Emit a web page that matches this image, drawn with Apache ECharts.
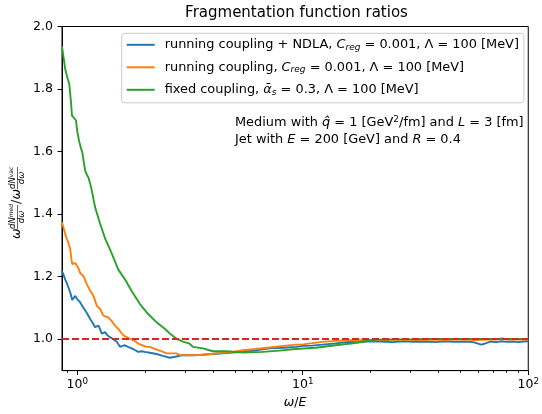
<!DOCTYPE html>
<html><head><meta charset="utf-8">
<script src="https://cdn.jsdelivr.net/npm/echarts@6/dist/echarts.min.js"></script>
<style>html,body{margin:0;padding:0;background:#fff}#c{width:542px;height:414px}</style>
</head><body><div id="c"></div>
<script>
const FONT = 'DejaVu Sans';
const xMajorTicks = [1, 10, 100];
const xMinorTicks = [0.9, 2, 3, 4, 5, 6, 7, 8, 9, 20, 30, 40, 50, 60, 70, 80, 90];
const yTicks = [1.0, 1.2, 1.4, 1.6, 1.8, 2.0];

const ndlaX = [0.856,0.870,0.885,0.900,0.915,0.935,0.950,0.957,0.968,0.980,1.000,1.031,1.055,1.085,1.110,1.141,1.170,1.200,1.220,1.242,1.265,1.285,1.305,1.329,1.360,1.398,1.440,1.497,1.520,1.548,1.590,1.628,1.680,1.743,1.800,1.864,1.930,1.995,2.100,2.246,2.400,2.572,2.750,2.944,3.200,3.488,4.000,4.892,5.415,6.200,7.102,8.200,9.314,10.03,11.0,12.21,14.0,16.01,18.0,19.81,22,25,28,31,35,39,43,47,52,57,61.8,64,68,72,76,80,85,90,95,100];
const ndlaY = [1.217,1.205,1.190,1.178,1.164,1.145,1.125,1.122,1.130,1.138,1.128,1.117,1.105,1.091,1.080,1.064,1.052,1.038,1.044,1.043,1.030,1.017,1.022,1.022,1.012,1.006,1.000,0.991,0.985,0.975,0.978,0.980,0.975,0.970,0.965,0.959,0.961,0.959,0.956,0.952,0.946,0.940,0.944,0.949,0.948,0.949,0.952,0.957,0.959,0.964,0.970,0.972,0.975,0.978,0.979,0.982,0.986,0.991,0.990,0.993,0.992,0.990,0.993,0.991,0.992,0.990,0.993,0.991,0.992,0.990,0.982,0.985,0.992,0.990,0.993,0.991,0.992,0.990,0.992,0.993];

const runX = [0.856,0.870,0.885,0.900,0.915,0.930,0.945,0.950,0.965,0.980,0.990,1.010,1.031,1.066,1.104,1.140,1.180,1.222,1.263,1.306,1.340,1.374,1.420,1.471,1.530,1.601,1.713,1.790,1.864,1.950,2.030,2.099,2.250,2.403,2.487,2.620,2.753,2.847,3.100,3.488,3.993,4.892,5.415,6.200,7.102,8.200,9.314,10.03,12.21,14,16.01,19.81,23,27,32,37,43,50,58,66,72,76.5,80,87,93,100];
const runY = [1.374,1.355,1.335,1.320,1.306,1.290,1.250,1.240,1.240,1.243,1.245,1.228,1.211,1.201,1.175,1.155,1.138,1.106,1.096,1.075,1.072,1.069,1.058,1.043,1.030,1.012,1.001,0.995,0.985,0.980,0.975,0.975,0.966,0.959,0.954,0.954,0.954,0.949,0.948,0.949,0.953,0.959,0.964,0.968,0.973,0.978,0.982,0.983,0.991,0.994,0.996,0.996,0.997,0.998,0.997,0.998,0.997,0.999,0.997,0.998,0.998,1.003,0.998,0.999,0.998,0.999];

const fixX = [0.856,0.870,0.885,0.905,0.922,0.935,0.948,0.957,0.987,1.000,1.020,1.040,1.055,1.070,1.085,1.105,1.122,1.153,1.200,1.263,1.329,1.422,1.521,1.628,1.743,1.897,2.063,2.246,2.445,2.600,2.753,2.944,3.151,3.258,3.607,3.993,4.575,5.415,6.634,7.863,9.314,11.41,13.98,16.01,17.72,19.81,21.71,26,30,35,40,50,60,70,80,90,100];
const fixY = [1.937,1.900,1.863,1.835,1.816,1.770,1.715,1.711,1.700,1.665,1.632,1.610,1.595,1.565,1.538,1.525,1.516,1.485,1.422,1.369,1.322,1.274,1.222,1.191,1.154,1.112,1.080,1.054,1.033,1.015,1.001,0.992,0.985,0.975,0.970,0.961,0.961,0.957,0.959,0.963,0.968,0.972,0.980,0.985,0.989,0.996,0.998,0.999,0.999,1.0,1.0,1.0,1.0,1.0,1.0,1.0,1.0];

const refX = [0.856, 100];
const refY = [1.0, 1.0];

const legendNames = ['ndla', 'run', 'fix'];
const legendLabels = {
  ndla: 'running coupling + NDLA, {i|C}{sub|reg} = 0.001, Λ = 100 [MeV]',
  run: 'running coupling, {i|C}{sub|reg} = 0.001, Λ = 100 [MeV]',
  fix: 'fixed coupling, {i|ᾱ}{sub|s} = 0.3, Λ = 100 [MeV]'
};
const titleText = 'Fragmentation function ratios';
const annot1 = 'Medium with {i|q̂} = 1 [GeV{sup|2}/fm] and {i|L} = 3 [fm]';
const annot2 = 'Jet with {i|E} = 200 [GeV] and {i|R} = 0.4';

const zip = (xs, ys) => xs.map((x, i) => [x, ys[i]]);
const colors = {ndla: '#1f77b4', run: '#ff7f0e', fix: '#2ca02c', ref: '#d62728'};

const chart = echarts.init(document.getElementById('c'), null, {renderer: 'canvas'});
const GL = 62, GR = 531, GT = 26.5, GB = 375.7;
const TXT = 12.9;

function lineSeries(name, xs, ys, color, z) {
  return {name, type: 'line', data: zip(xs, ys), symbol: 'none', showSymbol: false,
    lineStyle: {color, width: 1.9}, itemStyle: {color}, z, silent: true};
}

const fracRich = {i: {fontSize: 8.5, fontStyle: 'italic', fontFamily: FONT}, s: {fontSize: 6, fontStyle: 'italic', fontFamily: FONT, verticalAlign: 'top', padding: [0, 0, 4, 0]}};
const yLabelGroup = {
  type: 'group', x: 17, y: 201, rotation: Math.PI / 2,
  children: [
    {type: 'text', x: -38, y: 0, style: {text: 'ω', font: 'italic 12.5px ' + FONT, fill: '#000', verticalAlign: 'middle', align: 'left'}},
    {type: 'text', x: -28, y: -4, style: {text: '{i|dN}{s|med}', font: 'italic 8.5px ' + FONT, fill: '#000', verticalAlign: 'middle', align: 'left', rich: fracRich}},
    {type: 'line', shape: {x1: -28, y1: 0.5, x2: -4, y2: 0.5}, style: {stroke: '#000', lineWidth: 0.6}},
    {type: 'text', x: -16, y: 5, style: {text: 'dω', font: 'italic 8.5px ' + FONT, fill: '#000', verticalAlign: 'middle', align: 'center'}},
    {type: 'text', x: -3, y: 0, style: {text: '/', font: '12.5px ' + FONT, fill: '#000', verticalAlign: 'middle', align: 'left'}},
    {type: 'text', x: 1.5, y: 0, style: {text: 'ω', font: 'italic 12.5px ' + FONT, fill: '#000', verticalAlign: 'middle', align: 'left'}},
    {type: 'text', x: 12, y: -4, style: {text: '{i|dN}{s|vac}', font: 'italic 8.5px ' + FONT, fill: '#000', verticalAlign: 'middle', align: 'left', rich: fracRich}},
    {type: 'line', shape: {x1: 12, y1: 0.5, x2: 34, y2: 0.5}, style: {stroke: '#000', lineWidth: 0.6}},
    {type: 'text', x: 23, y: 5, style: {text: 'dω', font: 'italic 8.5px ' + FONT, fill: '#000', verticalAlign: 'middle', align: 'center'}}
  ]
};

const annotRich = {
  i: {fontStyle: 'italic', fontSize: TXT, fontFamily: FONT},
  sup: {fontSize: 9, fontFamily: FONT, verticalAlign: 'top', padding: [0, 0, 5, 0]}
};

const option = {
  animation: false,
  backgroundColor: '#fff',
  title: {text: titleText, left: (GL + GR) / 2, top: 6, textAlign: 'center', padding: 0,
    textStyle: {fontFamily: FONT, fontSize: 15, fontWeight: 'normal', color: '#000'}},
  grid: {left: GL, right: 542 - GR, top: GT, bottom: 414 - GB, show: true, borderColor: '#000', borderWidth: 1, backgroundColor: 'transparent'},
  legend: {
    data: legendNames, left: 121.7, top: 33.3, orient: 'vertical',
    icon: 'rect', itemWidth: 28, itemHeight: 2, itemGap: 9,
    padding: [5, 5, 6, 5],
    backgroundColor: 'rgba(255,255,255,0.8)', borderColor: '#cccccc', borderWidth: 1, borderRadius: 3,
    formatter: n => legendLabels[n],
    textStyle: {fontFamily: FONT, fontSize: TXT, color: '#000', padding: [0, 0, 0, 5],
      rich: {i: {fontStyle: 'italic', fontSize: TXT, fontFamily: FONT},
             sub: {fontStyle: 'italic', fontSize: 9, fontFamily: FONT, verticalAlign: 'bottom', padding: [5, 0, 0, 0]}}},
    selectedMode: false
  },
  xAxis: [{
    type: 'log', logBase: 10, min: 0.856, max: 100, position: 'bottom',
    name: '{i|ω}/{i|E}', nameLocation: 'middle', nameGap: 22,
    nameTextStyle: {fontFamily: FONT, fontSize: 12.5, color: '#000', rich: {i: {fontStyle: 'italic', fontSize: 12.5, fontFamily: FONT}}},
    axisLine: {show: true, lineStyle: {color: '#000', width: 1}},
    axisTick: {show: true, customValues: xMajorTicks, length: 4.4, lineStyle: {color: '#000', width: 1}},
    axisLabel: {show: true, customValues: xMajorTicks, margin: 7, color: '#000', fontFamily: FONT, fontSize: 12.5,
      formatter: v => '{b|10}{s|' + Math.round(Math.log10(v)) + '}',
      rich: {b: {fontSize: 12.5, fontFamily: FONT}, s: {fontSize: 8.75, fontFamily: FONT, verticalAlign: 'top', padding: [0, 0, 5, 0]}}},
    splitLine: {show: false}, minorTick: {show: false}
  }, {
    type: 'log', logBase: 10, min: 0.856, max: 100, position: 'bottom', gridIndex: 0,
    axisLine: {show: false},
    axisTick: {show: true, customValues: xMinorTicks, length: 2.5, lineStyle: {color: '#000', width: 0.8}},
    axisLabel: {show: false},
    splitLine: {show: false}
  }],
  yAxis: {
    type: 'value', min: 0.899, max: 2.0,
    axisLine: {show: true, lineStyle: {color: '#000', width: 1}},
    axisTick: {show: true, customValues: yTicks, length: 4.4, lineStyle: {color: '#000', width: 1}},
    axisLabel: {show: true, customValues: yTicks, margin: 9, color: '#000', fontFamily: FONT, fontSize: 12.5, formatter: v => v.toFixed(1)},
    splitLine: {show: false}
  },
  series: [
    lineSeries('ndla', ndlaX, ndlaY, colors.ndla, 2),
    lineSeries('run', runX, runY, colors.run, 3),
    lineSeries('fix', fixX, fixY, colors.fix, 4),
    {name: 'ref', type: 'line', data: zip(refX, refY), symbol: 'none', z: 5, silent: true,
      lineStyle: {color: colors.ref, width: 1.9, type: [7, 3]}, itemStyle: {color: colors.ref}}
  ],
  graphic: [
    yLabelGroup,
    {type: 'text', x: 235, y: 122.5, style: {text: annot1, font: TXT + 'px ' + FONT, fill: '#000', verticalAlign: 'middle', align: 'left', rich: annotRich}},
    {type: 'text', x: 235, y: 139.5, style: {text: annot2, font: TXT + 'px ' + FONT, fill: '#000', verticalAlign: 'middle', align: 'left', rich: annotRich}}
  ]
};
chart.setOption(option);
</script>
</body></html>
